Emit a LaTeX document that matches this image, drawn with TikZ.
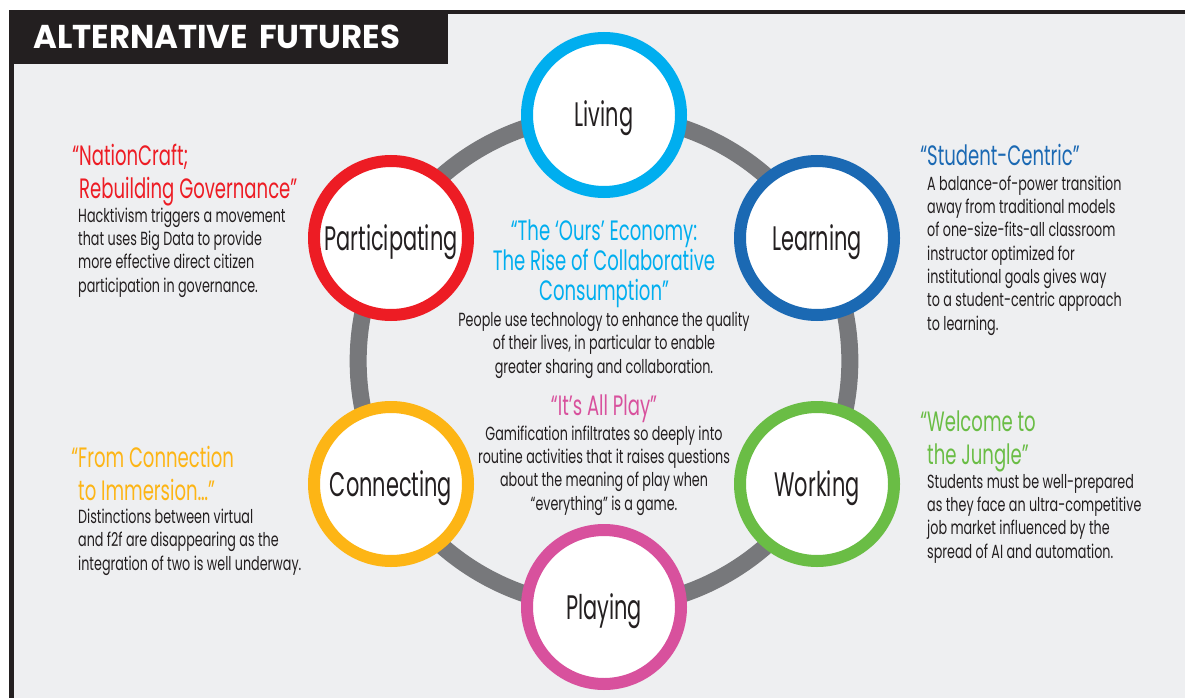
\documentclass[tikz,border=0pt]{standalone}
\usepackage{fontspec}
\setmainfont{Poppins}[FakeStretch=0.62]
\newfontfamily\bodyfont{Poppins}[FakeStretch=0.67]
\newfontfamily\headfont{Poppins}[FakeStretch=0.645]
\newfontfamily\labelfont{Poppins}[FakeStretch=0.615]
\newfontfamily\titlefont{Poppins}[FakeStretch=0.98]
\definecolor{frame}{HTML}{231F20}
\definecolor{panel}{HTML}{EEEFF1}
\definecolor{txt}{HTML}{231F20}
\definecolor{ringgray}{HTML}{77787B}
\definecolor{cLiving}{HTML}{00AEEF}
\definecolor{cLearning}{HTML}{1B69B3}
\definecolor{cWorking}{HTML}{6ABD45}
\definecolor{cPlaying}{HTML}{D8519D}
\definecolor{cConnecting}{HTML}{FDB515}
\definecolor{cParticipating}{HTML}{ED1C24}
\pgfdeclarelayer{bg}
\pgfdeclarelayer{ringlayer}
\pgfsetlayers{bg,ringlayer,main}
\tikzset{
  hub/.style={circle, draw=#1, line width=12pt, fill=white, minimum size=154pt, inner sep=0pt,
    font=\labelfont\fontsize{34}{36}\selectfont, text=txt, text height=24pt, text depth=0pt},
  ringline/.style={draw=ringgray, line width=17pt},
  headtxt/.style={inner sep=0pt, align=left, text=#1, font=\headfont\fontsize{28}{32.5}\selectfont},
  headctr/.style={inner sep=0pt, align=center, text=#1, font=\headfont\fontsize{28}{30}\selectfont},
  bodytxt/.style={inner sep=0pt, align=left, text=txt, font=\bodyfont\fontsize{19}{23.3}\selectfont},
  bodyctr/.style={inner sep=0pt, align=center, text=txt, font=\bodyfont\fontsize{19}{23.3}\selectfont},
}
\begin{document}
\begin{tikzpicture}[x=1pt,y=-1pt]
\useasboundingbox (0,0) rectangle (1185,698);
\begin{pgfonlayer}{bg}
  \fill[white] (0,0) rectangle (1185,698);
  \fill[panel] (11,12) rectangle (1185,698);
  \fill[frame] (9,10) rectangle (1185,14);
  \fill[frame] (9,10) rectangle (13.5,698);
\end{pgfonlayer}
% title
\node[anchor=north west, fill=frame, minimum height=54pt, text width=391pt, inner xsep=24pt, inner ysep=0pt,
  align=left, text=white, font=\titlefont\bfseries\fontsize{33}{36}\selectfont] (title) at (9,10) {ALTERNATIVE FUTURES};
% hubs
\node[hub=cLiving] (living) at (604,115) {Living};
\node[hub=cLearning] (learning) at (817,238) {Learning};
\node[hub=cWorking] (working) at (817,484) {Working};
\node[hub=cPlaying] (playing) at (604,607) {Playing};
\node[hub=cConnecting] (connecting) at (391,484) {Connecting};
\node[hub=cParticipating] (participating) at (391,238) {Participating};
\begin{pgfonlayer}{ringlayer}
  \draw[ringline] (living.center) to[bend left=30, looseness=0.913] (learning.center);
  \draw[ringline] (learning.center) to[bend left=30, looseness=0.913] (working.center);
  \draw[ringline] (working.center) to[bend left=30, looseness=0.913] (playing.center);
  \draw[ringline] (playing.center) to[bend left=30, looseness=0.913] (connecting.center);
  \draw[ringline] (connecting.center) to[bend left=30, looseness=0.913] (participating.center);
  \draw[ringline] (participating.center) to[bend left=30, looseness=0.913] (living.center);
\end{pgfonlayer}
% (anchor base = baseline of the last line)
% participating text
\node[headtxt=cParticipating, anchor=base west] (hPart) at (79,198) {\llap{“}NationCraft;\\Rebuilding Governance”};
\node[bodytxt, anchor=base west] (bPart) at (78,292) {Hacktivism triggers a movement\\that uses Big Data to provide\\more effective direct citizen\\participation in governance.};
% learning text
\node[headtxt=cLearning, anchor=base west] (hLearn) at (927,165) {\llap{“}Student-Centric”};
\node[bodytxt, anchor=base west] (bLearn) at (927,330) {A balance-of-power transition\\away from traditional models\\of one-size-fits-all classroom\\instructor optimized for\\institutional goals gives way\\to a student-centric approach\\to learning.};
% living text (center top)
\node[headctr=cLiving, anchor=base] (hLiv) at (604,300) {“The ‘Ours’ Economy:\\The Rise of Collaborative\\Consumption”};
\node[bodyctr, anchor=base] (bLiv) at (604,373) {People use technology to enhance the quality\\of their lives, in particular to enable\\greater sharing and collaboration.};
% playing text (center bottom)
\node[headctr=cPlaying, anchor=base] (hPlay) at (604,415) {“It’s All Play”};
\node[bodyctr, anchor=base] (bPlay) at (604,510) {Gamification infiltrates so deeply into\\routine activities that it raises questions\\about the meaning of play when\\“everything” is a game.};
% connecting text
\node[headtxt=cConnecting, anchor=base west] (hConn) at (78,500) {\llap{“}From Connection\\to Immersion…”};
\node[bodytxt, anchor=base west] (bConn) at (78,570) {Distinctions between virtual\\and f2f are disappearing as the\\integration of two is well underway.};
% working text
\node[headtxt=cWorking, anchor=base west] (hWork) at (927,464) {\llap{“}Welcome to\\the Jungle”};
\node[bodytxt, anchor=base west] (bWork) at (927,558) {Students must be well-prepared\\as they face an ultra-competitive\\job market influenced by the\\spread of AI and automation.};
\end{tikzpicture}
\end{document}
